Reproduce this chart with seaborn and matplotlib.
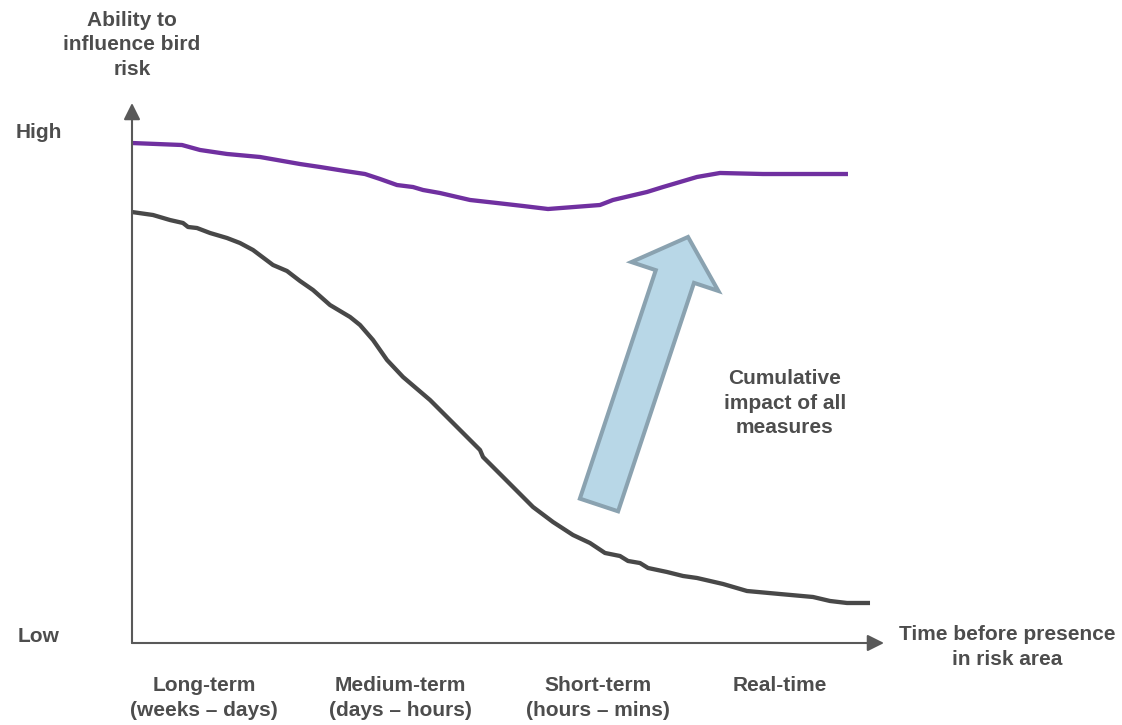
import matplotlib
matplotlib.use("Agg")
import matplotlib.pyplot as plt
import seaborn as sns
import pandas as pd

# --- data -------------------------------------------------------------
# Time axis runs 0..100 (left = far ahead, right = real time),
# ability axis runs 0 (Low) .. 100 (High).
combined_x = [0, 6.65, 9.04, 12.63, 17.02, 22.34, 25.00, 28.32, 30.98, 32.98,
              35.24, 37.37, 38.70, 40.96, 44.95, 48.54, 51.99, 55.32, 62.23,
              63.96, 68.48, 70.61, 72.87, 75.13, 78.19, 83.91, 95.21]
combined_y = [92.59, 92.22, 91.30, 90.56, 90.00, 88.70, 88.15, 87.41, 86.85,
              85.93, 84.81, 84.44, 83.89, 83.33, 82.04, 81.48, 80.93, 80.37,
              81.11, 82.04, 83.52, 84.44, 85.37, 86.30, 87.04, 86.85, 86.85]

single_x = [0, 2.79, 5.05, 6.78, 7.45, 8.64, 10.37, 12.63, 14.36, 16.09, 18.75,
            20.61, 22.34, 24.07, 26.33, 29.00, 30.32, 32.05, 33.91, 36.04,
            39.63, 42.69, 46.28, 46.68, 49.34, 53.32, 55.98, 58.64, 60.90,
            62.90, 64.89, 65.96, 67.55, 68.62, 71.14, 73.27, 75.13, 78.59,
            81.78, 86.17, 90.56, 92.82, 95.08, 98.14]
single_y = [79.81, 79.26, 78.33, 77.78, 77.04, 76.85, 75.93, 75.00, 74.07,
            72.78, 70.00, 68.89, 67.04, 65.37, 62.59, 60.37, 58.89, 56.11,
            52.41, 49.26, 45.00, 40.74, 35.74, 34.44, 30.74, 25.19, 22.41,
            20.00, 18.52, 16.67, 16.11, 15.19, 14.81, 13.89, 13.15, 12.41,
            12.04, 10.93, 9.63, 9.07, 8.52, 7.78, 7.41, 7.41]

phase_pos = [9.6, 35.7, 61.9, 86.2]
phase_labels = ["Long-term\n(weeks – days)", "Medium-term\n(days – hours)",
                "Short-term\n(hours – mins)", "Real-time"]
level_pos = [95.0, 1.5]
level_labels = ["High", "Low"]

impact_from = (62.10, 25.56)
impact_to = (73.94, 75.19)

# --- style ------------------------------------------------------------
sns.set_theme(style="white")
plt.rcParams["font.family"] = ["Liberation Sans", "DejaVu Sans"]
plt.rcParams["font.weight"] = "bold"

TEXT = "#4d4d4d"
AXIS = "#595959"
PURPLE = "#7030a0"
DARK = "#484848"
FS = 15
LS = 1.38

fig = plt.figure(figsize=(11.22, 7.25), dpi=100)
ax = fig.add_axes([132 / 1122, 82 / 725, 752 / 1122, 540 / 725])
ax.set_xlim(0, 100)
ax.set_ylim(0, 100)
for s in ax.spines.values():
    s.set_visible(False)

df_combined = pd.DataFrame({"time": combined_x, "ability": combined_y})
df_single = pd.DataFrame({"time": single_x, "ability": single_y})

sns.lineplot(data=df_combined, x="time", y="ability", ax=ax, color=PURPLE,
             lw=3.1, sort=False, estimator=None, clip_on=False,
             solid_capstyle="butt", solid_joinstyle="round")
sns.lineplot(data=df_single, x="time", y="ability", ax=ax, color=DARK,
             lw=3.1, sort=False, estimator=None, clip_on=False,
             solid_capstyle="butt", solid_joinstyle="round")

# axis arrows
arrow_kw = dict(arrowstyle="-|>,head_length=1.0,head_width=0.5", color=AXIS,
                lw=1.5, shrinkA=0, shrinkB=0, mutation_scale=10)
ax.annotate("", xy=(100, 0), xytext=(0, 0), arrowprops=arrow_kw,
            annotation_clip=False)
ax.annotate("", xy=(0, 100), xytext=(0, 0), arrowprops=arrow_kw,
            annotation_clip=False)

# block arrow for the cumulative effect
ax.annotate("", xy=impact_to, xytext=impact_from,
            arrowprops=dict(arrowstyle="simple,head_length=3.0,head_width=6.6,tail_width=2.9",
                            mutation_scale=10, shrinkA=0, shrinkB=0,
                            facecolor="#b8d7e7", edgecolor="#8aa2b0", lw=2.9,
                            joinstyle="miter"),
            annotation_clip=False)
ax.text(86.8, 44.4, "Cumulative\nimpact of all\nmeasures", ha="center",
        va="center", fontsize=FS, color=TEXT, fontweight="bold", linespacing=LS)

# ticks as category labels
ax.set_xticks(phase_pos, phase_labels)
ax.set_yticks(level_pos, level_labels)
ax.tick_params(axis="x", length=0, pad=24, labelsize=FS, labelcolor=TEXT)
ax.tick_params(axis="y", length=0, pad=67, labelsize=FS, labelcolor=TEXT)
for lab in ax.get_xticklabels():
    lab.set_fontweight("bold")
    lab.set_linespacing(LS)
for lab in ax.get_yticklabels():
    lab.set_fontweight("bold")
    lab.set_horizontalalignment("center")

ax.set_xlabel("Time before presence\nin risk area", fontsize=FS, color=TEXT,
              fontweight="bold", linespacing=LS, ha="center", va="center")
ax.xaxis.set_label_coords(1.1636, -0.007)
ax.set_ylabel("Ability to\ninfluence bird\nrisk", fontsize=FS, color=TEXT,
              fontweight="bold", linespacing=LS, rotation=0, ha="center",
              va="center")
ax.yaxis.set_label_coords(0, (643 - 45) / 540)

fig.savefig("out.png", dpi=100)
